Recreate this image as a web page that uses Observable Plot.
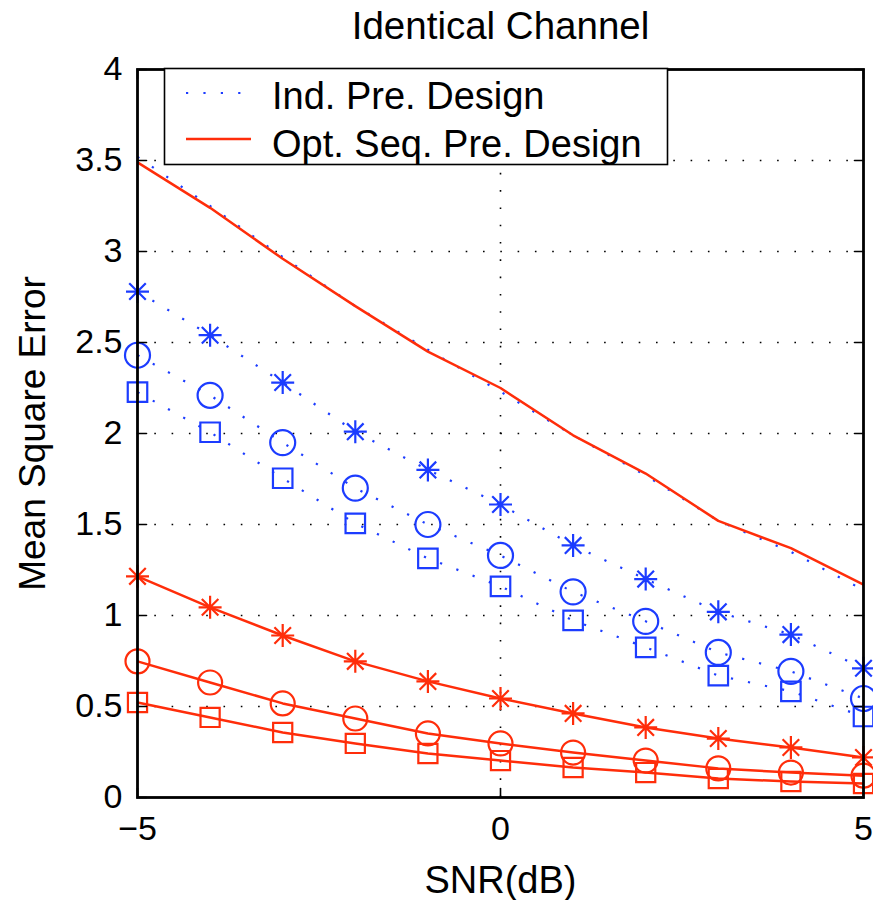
<!DOCTYPE html>
<html>
<head>
<meta charset="utf-8">
<script src="https://cdn.jsdelivr.net/npm/d3@7"></script>
<script src="https://cdn.jsdelivr.net/npm/@observablehq/plot@0.6"></script>
<style>
  html, body { margin: 0; padding: 0; background: white; }
  #chart { position: relative; width: 873px; height: 900px; }
  svg { font-family: "Liberation Sans", Arial, Helvetica, sans-serif; }
</style>
</head>
<body>
<div id="chart"></div>
<script>
// ---- Data ----
const snr = [-5, -4, -3, -2, -1, 0, 1, 2, 3, 4, 5];

// Ind. Pre. Design (blue, dotted)
const indUpper  = [3.52, 3.25, 2.97, 2.70, 2.46, 2.23, 1.99, 1.77, 1.52, 1.35, 1.14];
const indStar   = [2.78, 2.54, 2.28, 2.01, 1.80, 1.61, 1.385, 1.20, 1.02, 0.895, 0.71];
const indCircle = [2.43, 2.21, 1.95, 1.70, 1.50, 1.33, 1.13, 0.968, 0.797, 0.693, 0.544];
const indSquare = [2.227, 2.007, 1.754, 1.506, 1.314, 1.16, 0.973, 0.825, 0.67, 0.583, 0.445];

// Opt. Seq. Pre. Design (red, solid)
const optUpper  = [3.49, 3.24, 2.96, 2.70, 2.45, 2.25, 1.99, 1.78, 1.52, 1.37, 1.17];
const optStar   = [1.215, 1.045, 0.89, 0.748, 0.638, 0.544, 0.462, 0.385, 0.324, 0.275, 0.22];
const optCircle = [0.748, 0.632, 0.517, 0.434, 0.352, 0.297, 0.247, 0.203, 0.16, 0.137, 0.12];
const optSquare = [0.522, 0.44, 0.357, 0.297, 0.242, 0.203, 0.165, 0.137, 0.104, 0.088, 0.077];

const xTicks = [-5, 0, 5];
const yTicks = [0, 0.5, 1, 1.5, 2, 2.5, 3, 3.5, 4];
const xTickLabels = ["\u22125", "0", "5"];
const yTickLabels = ["0", "0.5", "1", "1.5", "2", "2.5", "3", "3.5", "4"];

const titleText = "Identical Channel";
const xLabel = "SNR(dB)";
const yLabel = "Mean Square Error";
const legendLabels = ["Ind. Pre. Design", "Opt. Seq. Pre. Design"];

// ---- Styles ----
const BLUE = "#1c3cff";
const RED = "#ff2d0a";
const DOTS = "2.2,15.2";
const GRID = "1.6,15.7";
const FONT = "'Liberation Sans', Arial, Helvetica, sans-serif";

const rows = ys => snr.map((x, i) => ({x, y: ys[i]}));

const asterisk = {
  draw(ctx, size) {
    const r = Math.sqrt(size / Math.PI);
    const d = r * 0.72;
    ctx.moveTo(-r, 0); ctx.lineTo(r, 0);
    ctx.moveTo(0, -r); ctx.lineTo(0, r);
    ctx.moveTo(-d, -d); ctx.lineTo(d, d);
    ctx.moveTo(-d, d); ctx.lineTo(d, -d);
  }
};
const tickShape = {
  draw(ctx, l) { ctx.moveTo(0, 0); ctx.lineTo(0, -l); }
};

const lineOpts = (stroke, dashed) => ({
  x: "x", y: "y", stroke, strokeWidth: dashed ? 2.2 : 2.5,
  strokeDasharray: dashed ? DOTS : null, strokeLinecap: "butt", curve: "linear"
});

const svg = Plot.plot({
  width: 873,
  height: 900,
  marginLeft: 137,
  marginRight: 10,
  marginTop: 69,
  marginBottom: 103,
  style: {fontFamily: FONT, background: "white"},
  x: {domain: [-5, 5], axis: null},
  y: {domain: [0, 4], axis: null},
  marks: [
    // grid
    Plot.ruleY(yTicks.filter(t => t > 0 && t < 4), {y: d => d, stroke: "black", strokeWidth: 1.6, strokeDasharray: GRID}),
    Plot.ruleX(xTicks.filter(t => t > -5 && t < 5), {x: d => d, stroke: "black", strokeWidth: 1.6, strokeDasharray: GRID}),

    // blue dotted top line, red top line
    Plot.line(rows(indUpper), lineOpts(BLUE, true)),
    Plot.line(rows(optUpper), lineOpts(RED, false)),

    Plot.line(rows(indStar), lineOpts(BLUE, true)),
    Plot.line(rows(indCircle), lineOpts(BLUE, true)),
    Plot.line(rows(indSquare), lineOpts(BLUE, true)),
    Plot.dot(rows(indStar), {x: "x", y: "y", symbol: asterisk, r: 11.5, stroke: BLUE, strokeWidth: 2.2, fill: "none"}),
    Plot.dot(rows(indCircle), {x: "x", y: "y", symbol: "circle", r: 12.5, stroke: BLUE, strokeWidth: 2.2, fill: "none"}),
    Plot.dot(rows(indSquare), {x: "x", y: "y", symbol: "square", r: 11, stroke: BLUE, strokeWidth: 2.2, fill: "none"}),

    Plot.line(rows(optStar), lineOpts(RED, false)),
    Plot.line(rows(optCircle), lineOpts(RED, false)),
    Plot.line(rows(optSquare), lineOpts(RED, false)),
    Plot.dot(rows(optStar), {x: "x", y: "y", symbol: asterisk, r: 11.5, stroke: RED, strokeWidth: 2.2, fill: "none"}),
    Plot.dot(rows(optCircle), {x: "x", y: "y", symbol: "circle", r: 12, stroke: RED, strokeWidth: 2.2, fill: "none"}),
    Plot.dot(rows(optSquare), {x: "x", y: "y", symbol: "square", r: 10.8, stroke: RED, strokeWidth: 2.2, fill: "none"}),

    // inward ticks on all four sides
    Plot.vector(yTicks, {x: -5, y: d => d, length: 9, rotate: 90, anchor: "start", shape: tickShape, stroke: "black", strokeWidth: 1.6}),
    Plot.vector(yTicks, {x: 5, y: d => d, length: 9, rotate: -90, anchor: "start", shape: tickShape, stroke: "black", strokeWidth: 1.6}),
    Plot.vector(xTicks, {x: d => d, y: 0, length: 9, rotate: 0, anchor: "start", shape: tickShape, stroke: "black", strokeWidth: 1.6}),
    Plot.vector(xTicks, {x: d => d, y: 4, length: 9, rotate: 180, anchor: "start", shape: tickShape, stroke: "black", strokeWidth: 1.6}),

    // frame
    Plot.frame({stroke: "black", strokeWidth: 2.8}),

    // tick labels
    Plot.text(yTicks, {x: -5, y: d => d, text: (d, i) => yTickLabels[i], textAnchor: "end", lineAnchor: "middle", dx: -15, fontSize: 34, fill: "black"}),
    Plot.text(xTicks, {x: d => d, y: 0, text: (d, i) => xTickLabels[i], textAnchor: "middle", lineAnchor: "middle", dy: 32, fontSize: 34, fill: "black"}),

    // title & axis labels
    Plot.text([titleText], {text: d => d, frameAnchor: "top", textAnchor: "middle", lineAnchor: "middle", dy: -43, fontSize: 38.5, fill: "black"}),
    Plot.text([xLabel], {text: d => d, frameAnchor: "bottom", textAnchor: "middle", lineAnchor: "middle", dy: 83, fontSize: 38, fill: "black"}),
    Plot.text([yLabel], {text: d => d, frameAnchor: "left", textAnchor: "middle", lineAnchor: "middle", dx: -104, rotate: -90, fontSize: 37, fill: "black"})
  ]
});

// ---- Legend (inside the axes, top-left) ----
const g = d3.select(svg).append("g").attr("class", "legend");
g.append("rect")
  .attr("x", 164.5).attr("y", 68.5).attr("width", 503).attr("height", 96)
  .attr("fill", "white").attr("stroke", "black").attr("stroke-width", 1.6);
g.append("line")
  .attr("x1", 186).attr("x2", 242).attr("y1", 93).attr("y2", 93)
  .attr("stroke", BLUE).attr("stroke-width", 2.2).attr("stroke-dasharray", DOTS);
g.append("line")
  .attr("x1", 186).attr("x2", 251).attr("y1", 139).attr("y2", 139)
  .attr("stroke", RED).attr("stroke-width", 2.5);
g.selectAll("text.leg").data(legendLabels).join("text")
  .attr("class", "leg")
  .attr("x", 272)
  .attr("y", (d, i) => i === 0 ? 96 : 144)
  .attr("dy", "0.35em")
  .attr("text-anchor", "start")
  .attr("font-size", 38)
  .attr("font-family", FONT)
  .attr("fill", "black")
  .text(d => d);

document.getElementById("chart").appendChild(svg);
</script>
</body>
</html>
